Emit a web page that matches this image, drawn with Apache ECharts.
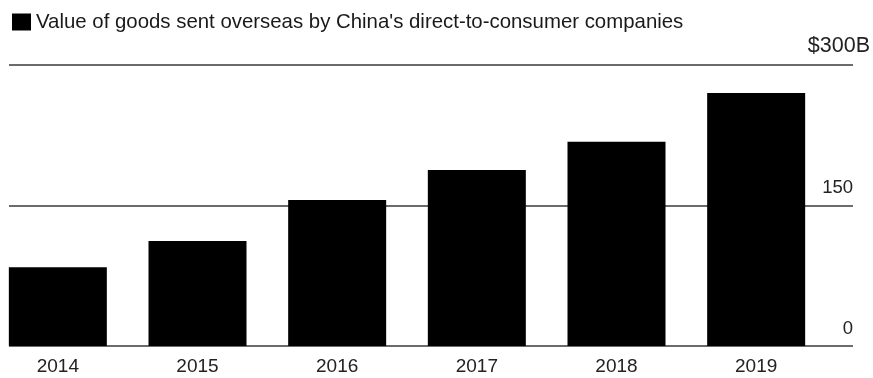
<!DOCTYPE html>
<html>
<head>
<meta charset="utf-8">
<script src="https://cdn.jsdelivr.net/npm/echarts@6/dist/echarts.min.js"></script>
<style>html,body{margin:0;padding:0;background:#fff;}#c{width:873px;height:378px;}</style>
</head>
<body>
<div id="c"></div>
<script>
const seriesName = "Value of goods sent overseas by China's direct-to-consumer companies";
const years = ['2014', '2015', '2016', '2017', '2018', '2019'];
const values = [84, 112, 156, 188, 218, 270];
const yTicks = [0, 150, 300];
const yTickLabels = ['0', '150', '$300B'];

const FONT = '"Liberation Sans", Arial, Helvetica, sans-serif';
const chart = echarts.init(document.getElementById('c'), null, {renderer: 'canvas'});
chart.setOption({
  animation: false,
  backgroundColor: '#fff',
  textStyle: {fontFamily: FONT},
  legend: {
    data: [seriesName], left: 12, top: 12, icon: 'rect', itemWidth: 19, itemHeight: 17, padding: 0,
    textStyle: {fontSize: 20.4, color: '#1a1a1a', fontFamily: FONT}, selectedMode: false
  },
  grid: [
    {left: -12, right: 47, top: 65, bottom: 32, outerBoundsMode: 'none', containLabel: false},
    {left: 9, right: 20, top: 65, bottom: 32, outerBoundsMode: 'none', containLabel: false}
  ],
  xAxis: [
    {type: 'category', gridIndex: 0, data: years, axisLine: {show: false}, axisTick: {show: false},
     axisLabel: {fontSize: 19, color: '#222', margin: 11, fontFamily: FONT}},
    {type: 'value', gridIndex: 1, min: 0, max: 1, show: false}
  ],
  yAxis: [
    {type: 'value', gridIndex: 0, min: yTicks[0], max: yTicks[2], show: false},
    {type: 'value', gridIndex: 1, min: yTicks[0], max: yTicks[2], interval: yTicks[1] - yTicks[0], position: 'right',
     axisLine: {show: false}, axisTick: {show: false},
     splitLine: {show: true, lineStyle: {color: '#6b6b6b', width: 2}},
     axisLabel: {
       inside: true, margin: -17, align: 'right', verticalAlign: 'bottom', padding: [0, 0, 8, 0],
       fontSize: 19, color: '#222', fontFamily: FONT,
       formatter: function (v) {
         const i = yTicks.indexOf(v);
         const t = yTickLabels[i];
         return v === yTicks[2] ? '{b|' + t + '}' : '{p|' + t + '}';
       },
       rich: {
         p: {padding: [0, 17, 0, 0], fontSize: 18.5, color: '#222', fontFamily: FONT},
         b: {fontSize: 21.5, color: '#222', fontFamily: FONT}
       }
     }}
  ],
  series: [{
    name: seriesName, type: 'bar', xAxisIndex: 0, yAxisIndex: 0, data: values,
    barWidth: 98, itemStyle: {color: '#000'}, z: 5
  }]
});
</script>
</body>
</html>
